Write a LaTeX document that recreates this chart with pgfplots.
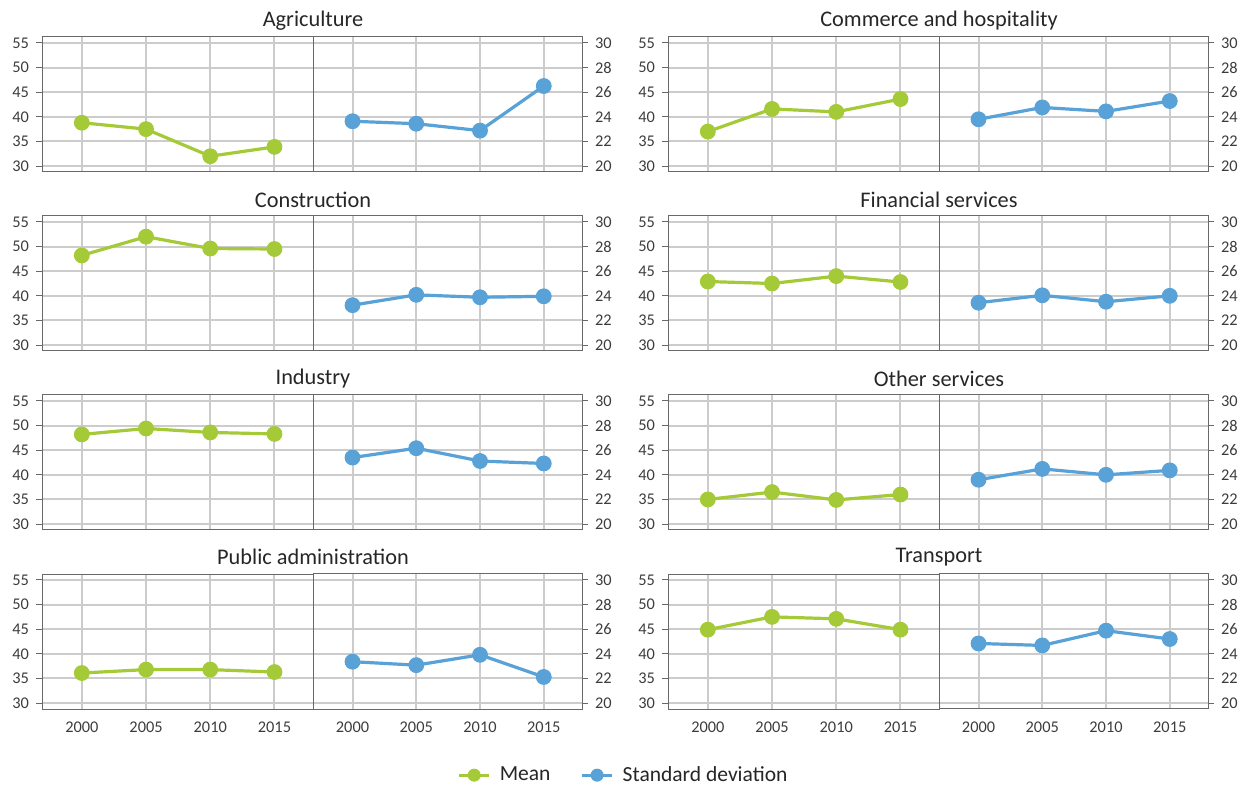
\documentclass[border=0pt]{standalone}
\usepackage{pgfplots}
\pgfplotsset{compat=1.18}
\usepackage{fontspec}
\setmainfont{Carlito}
\definecolor{meangreen}{RGB}{165,202,56}
\definecolor{sdblue}{RGB}{88,162,216}
\definecolor{gridgray}{RGB}{204,204,204}
\definecolor{framegray}{RGB}{105,105,105}
\definecolor{labelgray}{RGB}{60,60,60}
\tikzset{ptitle/.style={font=\fontsize{11.2}{13}\selectfont, text=black!85}}
\pgfplotsset{
  panel/.style={scale only axis, height=67.5bp, anchor=south west,
    xmin=1996.9, xmax=2018, xtick={2000,2005,2010,2015}, xticklabels={,,,},
    major x tick style={draw=none},
    grid=major, grid style={draw=gridgray, line width=1bp},
    axis line style={draw=framegray, line width=0.5bp},
    tick align=outside, major tick length=3bp,
    ytick style={draw=framegray, line width=0.5bp},
    tick label style={font=\fontsize{8.2}{9}\selectfont, text=labelgray},
    /pgf/number format/assume math mode=true,
    every axis plot/.append style={line width=1.6bp, mark=*, mark size=3.7bp,
      mark options={line width=0.5bp}}},
  meanpanel/.style={panel, width=135.5bp, ymin=28.8, ymax=56.2,
    ytick={30,35,...,55}, ytick pos=left},
  sdpanel/.style={panel, width=134.5bp, ymin=19.52, ymax=30.48,
    ytick={20,22,...,30}, ytick pos=right, yticklabel pos=right},
  years/.style={xticklabels={2000,2005,2010,2015}},
}
\begin{document}
\begin{tikzpicture}
\useasboundingbox (0,0) rectangle (620.5bp,392.5bp);

% row 1
\begin{axis}[meanpanel, at={(21bp,306.5bp)}]
\addplot[meangreen] coordinates {(2000,38.8)(2005,37.5)(2010,32.0)(2015,33.9)};
\end{axis}
\begin{axis}[sdpanel, at={(156.5bp,306.5bp)}]
\addplot[sdblue] coordinates {(2000,23.64)(2005,23.44)(2010,22.88)(2015,26.5)};
\end{axis}
\node[ptitle] at (156.5bp,382bp) {Agriculture};
\begin{axis}[meanpanel, at={(334bp,306.5bp)}]
\addplot[meangreen] coordinates {(2000,37.0)(2005,41.6)(2010,41.0)(2015,43.6)};
\end{axis}
\begin{axis}[sdpanel, at={(469.5bp,306.5bp)}]
\addplot[sdblue] coordinates {(2000,23.8)(2005,24.76)(2010,24.44)(2015,25.28)};
\end{axis}
\node[ptitle] at (469.5bp,382bp) {Commerce and hospitality};

% row 2
\begin{axis}[meanpanel, at={(21bp,217bp)}]
\addplot[meangreen] coordinates {(2000,48.2)(2005,52.0)(2010,49.6)(2015,49.5)};
\end{axis}
\begin{axis}[sdpanel, at={(156.5bp,217bp)}]
\addplot[sdblue] coordinates {(2000,23.24)(2005,24.08)(2010,23.88)(2015,23.96)};
\end{axis}
\node[ptitle] at (156.5bp,292.5bp) {Construction};
\begin{axis}[meanpanel, at={(334bp,217bp)}]
\addplot[meangreen] coordinates {(2000,42.9)(2005,42.5)(2010,44.0)(2015,42.8)};
\end{axis}
\begin{axis}[sdpanel, at={(469.5bp,217bp)}]
\addplot[sdblue] coordinates {(2000,23.44)(2005,24.04)(2010,23.52)(2015,24.0)};
\end{axis}
\node[ptitle] at (469.5bp,292.5bp) {Financial services};

% row 3
\begin{axis}[meanpanel, at={(21bp,127.5bp)}]
\addplot[meangreen] coordinates {(2000,48.2)(2005,49.4)(2010,48.6)(2015,48.3)};
\end{axis}
\begin{axis}[sdpanel, at={(156.5bp,127.5bp)}]
\addplot[sdblue] coordinates {(2000,25.4)(2005,26.16)(2010,25.12)(2015,24.92)};
\end{axis}
\node[ptitle] at (156.5bp,203bp) {Industry};
\begin{axis}[meanpanel, at={(334bp,127.5bp)}]
\addplot[meangreen] coordinates {(2000,35.0)(2005,36.5)(2010,34.9)(2015,36.0)};
\end{axis}
\begin{axis}[sdpanel, at={(469.5bp,127.5bp)}]
\addplot[sdblue] coordinates {(2000,23.6)(2005,24.48)(2010,24.0)(2015,24.36)};
\end{axis}
\node[ptitle] at (469.5bp,203bp) {Other services};

% row 4
\begin{axis}[meanpanel, years, at={(21bp,38bp)}]
\addplot[meangreen] coordinates {(2000,36.1)(2005,36.8)(2010,36.8)(2015,36.3)};
\end{axis}
\begin{axis}[sdpanel, years, at={(156.5bp,38bp)},
  legend columns=2,
  legend style={at={(1.158,-0.49)}, anchor=center, draw=none, fill=none,
    font=\fontsize{10.8}{12}\selectfont, text=black!85,
    /tikz/every odd column/.append style={column sep=2.5bp},
    /tikz/every even column/.append style={column sep=13bp}},
  legend image code/.code={\draw[mark repeat=2,mark phase=2,#1]
    plot coordinates {(0bp,0bp) (7.5bp,0bp) (15bp,0bp)};}]
\addlegendimage{meangreen, line width=1.6bp, mark=*, mark size=3bp, mark options={line width=0.5bp}}
\addlegendentry{Mean}
\addplot[sdblue, forget plot] coordinates {(2000,23.36)(2005,23.08)(2010,23.92)(2015,22.12)};
\addlegendimage{sdblue, line width=1.6bp, mark=*, mark size=3bp, mark options={line width=0.5bp}}
\addlegendentry{Standard deviation}
\end{axis}
\node[ptitle] at (156.5bp,114bp) {Public administration};
\begin{axis}[meanpanel, years, at={(334bp,38bp)}]
\addplot[meangreen] coordinates {(2000,44.9)(2005,47.5)(2010,47.1)(2015,44.9)};
\end{axis}
\begin{axis}[sdpanel, years, at={(469.5bp,38bp)}]
\addplot[sdblue] coordinates {(2000,24.84)(2005,24.68)(2010,25.88)(2015,25.2)};
\end{axis}
\node[ptitle] at (469.5bp,114bp) {Transport};
\end{tikzpicture}
\end{document}
